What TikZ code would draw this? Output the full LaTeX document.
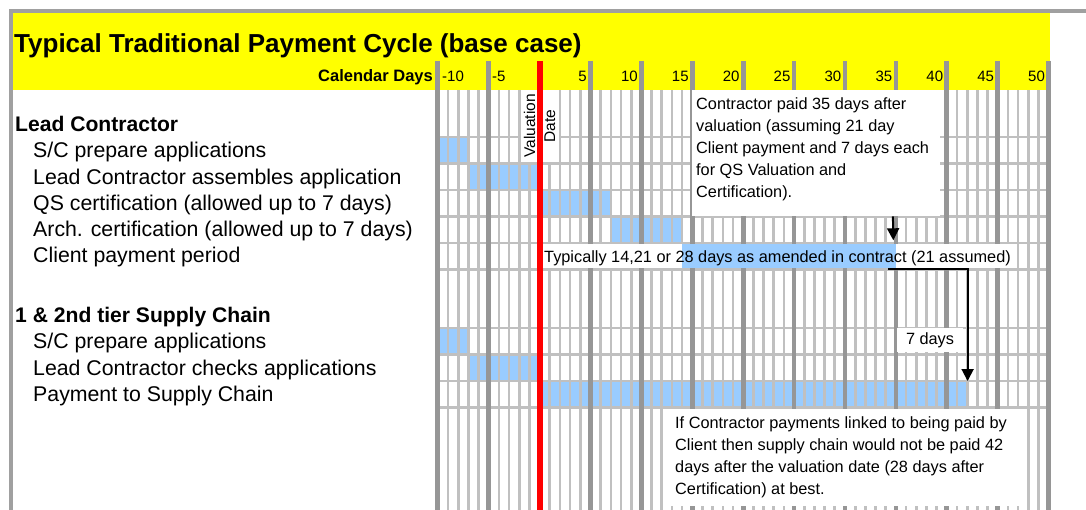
\documentclass[tikz,border=0pt]{standalone}
\usepackage{fontspec}
\setmainfont{Liberation Sans}
\usetikzlibrary{arrows.meta}
\definecolor{hdr}{HTML}{FFFF00}
\definecolor{cellblue}{HTML}{99CCFF}
\definecolor{lgrid}{HTML}{C0C0C0}
\definecolor{dgrid}{HTML}{969696}
\definecolor{framegray}{HTML}{A0A0A0}
\begin{document}
\begin{tikzpicture}[x=1pt,y=-1pt,
  declare function={xd(\d)=539.6+10.18*\d;},
  lbl/.style={anchor=base west, inner sep=0, font=\fontsize{21.3}{25}\selectfont},
  lblb/.style={anchor=base west, inner sep=0, font=\bfseries\fontsize{21.1}{25}\selectfont},
  note/.style={anchor=north west, inner sep=0, align=left, font=\fontsize{16.3}{22}\selectfont},
  notefont/.style={font=\fontsize{16.3}{22}\selectfont},
  daynum/.style={inner sep=0, font=\fontsize{15}{18}\selectfont},
  lline/.style={lgrid, line width=2.7},
  hline/.style={lgrid, line width=2.5},
  dline/.style={dgrid, line width=4.7},
  whitebox/.style={fill=white, draw=none, inner sep=0, anchor=north west},
  arr/.style={line width=2pt, -{Triangle[width=12pt,length=12pt]}}
]
\useasboundingbox (0,0) rectangle (1086,510);
\clip (0,0) rectangle (1086,510);
\fill[white] (0,0) rectangle (1086,510);
% frame
\draw[framegray, line width=4] (11,512) -- (11,11) -- (1088,11);
% header
\fill[hdr] (13,13) rectangle (1050,90);
% blue cells
\fill[cellblue] ({xd(-10)},137) rectangle ({xd(-7)},163.5);
\fill[cellblue] ({xd(-7)},163.5) rectangle ({xd(0)},190);
\fill[cellblue] ({xd(0)},190) rectangle ({xd(7)},216.5);
\fill[cellblue] ({xd(7)},216.5) rectangle ({xd(14)},243);
\fill[cellblue] ({xd(-10)},328) rectangle ({xd(-7)},354.5);
\fill[cellblue] ({xd(-7)},354.5) rectangle ({xd(0)},381);
\node[fill=cellblue, inner sep=0, minimum width=427.6, minimum height=26.5, anchor=north west] (paybar) at ({xd(0)},381) {};
% light vertical lines
\foreach \b in {-10,-5,...,45}{
  \foreach \k in {1,...,4}{
    \draw[lline] ({xd(\b+\k)},90) -- ({xd(\b+\k)},512);
  }
}
% horizontal lines
\foreach \yy in {137,163.5,190,216.5,243,269.5,328,354.5,381,407.5}{
  \draw[hline] ({xd(-10)},\yy) -- ({xd(50)+2},\yy);
}
% dark lines
\foreach \d in {-10,-5,5,10,...,50}{
  \draw[dline] ({xd(\d)},61) -- ({xd(\d)},512);
}
% valuation date cells
\fill[white] ({xd(-2)+1.4},90) rectangle ({xd(2)-1.4},162.2);
% client payment row
\fill[white] ({xd(0)},244.3) rectangle ({xd(47)-1.4},268.2);
\node[fill=cellblue, inner sep=0, minimum width=213.8, minimum height=23.9, anchor=north west] (clientbar) at ({xd(14)},244.3) {};
% red valuation line
\draw[red, line width=6] (539.6,61) -- (539.6,512);
% title and header
\node[anchor=base west, inner sep=0, font=\bfseries\fontsize{26}{30}\selectfont] (title) at (14,53) {Typical Traditional Payment Cycle (base case)};
\node[anchor=base east, inner sep=0, font=\bfseries\fontsize{16.5}{20}\selectfont] (cal) at (433,82) {Calendar Days};
\node[daynum, anchor=base west] (dm10) at (442,82) {-10};
\node[daynum, anchor=base west] (dm5) at (492,82) {-5};
\foreach \d in {5,10,...,50}{
  \node[daynum, anchor=base east] (d\d) at ({xd(\d)-3.5},82) {\d};
}
% valuation date
\node[rotate=90, anchor=base, inner sep=0, font=\fontsize{15.5}{18}\selectfont] (val) at (535,126) {Valuation};
\node[rotate=90, anchor=base, inner sep=0, font=\fontsize{15.5}{18}\selectfont] (date) at (555,126) {Date};
% left labels
\node[lblb] (lc) at (15,131.5) {Lead Contractor};
\node[lbl] (l1) at (33,158) {S/C prepare applications};
\node[lbl] (l2) at (33,184.5) {Lead Contractor assembles application};
\node[lbl] (l3) at (33,210.5) {QS certification (allowed up to 7 days)};
\node[lbl] (l4) at (33,237) {Arch. certification (allowed up to 7 days)};
\node[lbl] (l5) at (33,263) {Client payment period};
\node[lblb] (sc) at (15,322.5) {1 \& 2nd tier Supply Chain};
\node[lbl] (s1) at (33,348.5) {S/C prepare applications};
\node[lbl] (s2) at (33,375) {Lead Contractor checks applications};
\node[lbl] (s3) at (33,401.5) {Payment to Supply Chain};
% client text
\node[anchor=base west, inner sep=0, notefont] (typ) at (544,263) {Typically 14,21 or 28 days as amended in contract (21 assumed)};
% callout 1
\node[whitebox, minimum width=248, minimum height=126] (box1) at (692,90) {};
\node[note] (box1txt) at (696,97) {Contractor paid 35 days after\\valuation (assuming 21 day\\Client payment and 7 days each\\for QS Valuation and\\Certification).};
% callout 2
\node[whitebox, minimum width=359, minimum height=97] (box2) at (668,409) {};
\node[note] (box2txt) at (675,416) {If Contractor payments linked to being paid by\\Client then supply chain would not be paid 42\\days after the valuation date (28 days after\\Certification) at best.};
% 7 days
\node[fill=white, inner sep=0, minimum width=66, minimum height=24, notefont] (seven) at (930,340) {7 days};
% arrows
\draw[arr] (box1.south -| {xd(35)-3},0) -- ([xshift=-3pt,yshift=4pt]clientbar.north east);
\draw[arr] ([xshift=-8pt]clientbar.south east) -- (clientbar.south east -| paybar.north east) -- (paybar.north east);
\end{tikzpicture}
\end{document}
